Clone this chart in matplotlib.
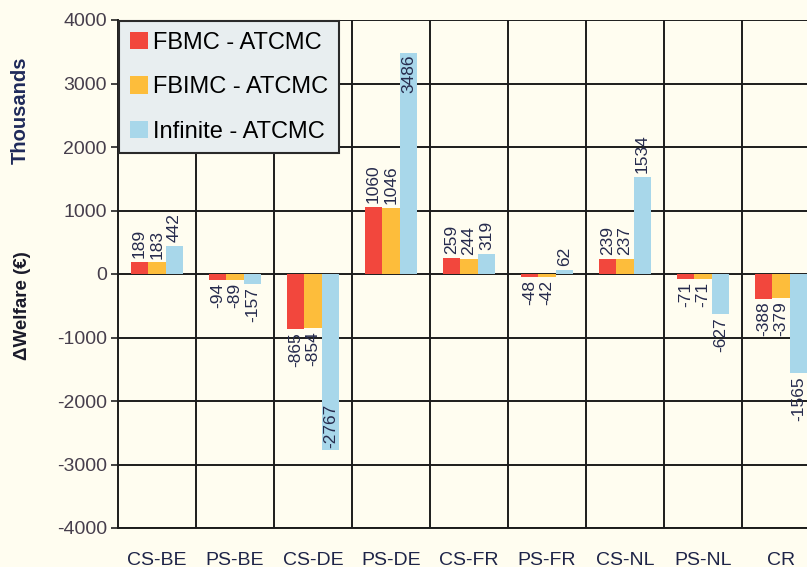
import numpy as np
import matplotlib.pyplot as plt

categories = ["CS-BE", "PS-BE", "CS-DE", "PS-DE", "CS-FR", "PS-FR", "CS-NL", "PS-NL", "CR"]
fbmc = [189, -94, -865, 1060, 259, -48, 239, -71, -388]
fbimc = [183, -89, -854, 1046, 244, -42, 237, -71, -379]
infinite = [442, -157, -2767, 3486, 319, 62, 1534, -627, -1565]
series_names = ["FBMC - ATCMC", "FBIMC - ATCMC", "Infinite - ATCMC"]
y_ticks = [-4000, -3000, -2000, -1000, 0, 1000, 2000, 3000, 4000]

colors = ["#F2473D", "#FDBD3B", "#A8D7EA"]
bg = "#FFFDF0"
ink = "#262B4D"

plt.rcParams['font.family'] = ['Liberation Sans', 'DejaVu Sans']

fig = plt.figure(figsize=(8.07, 5.67), dpi=100, facecolor=bg)
# the CR group runs past the right edge of the figure
ax = fig.add_axes([118 / 807, 39 / 567, 702 / 807, 508 / 567])
ax.set_facecolor(bg)

x = np.arange(len(categories))
w = 0.225
for k, (vals, col, name) in enumerate(zip([fbmc, fbimc, infinite], colors, series_names)):
    xs = x + (k - 1) * w
    ax.bar(xs, vals, width=w, color=col, label=name, zorder=3, linewidth=0)
    for xi, v in zip(xs, vals):
        inside = abs(v) > 2500
        if v >= 0:
            va = 'top' if inside else 'bottom'
            yy = v - 30 if inside else v + 60
        else:
            va = 'bottom' if inside else 'top'
            yy = v + 30 if inside else v - 50
        ax.text(xi, yy, f"{v}", rotation=90, ha='center', va=va,
                fontsize=12.5, color=ink, zorder=4)

ax.set_xlim(-0.5, len(categories) - 0.5)
ax.set_ylim(-4000, 4000)
ax.set_yticks(y_ticks)
ax.set_yticklabels([str(t) for t in y_ticks], fontsize=14, color="#463E4C")
ax.set_xticks(x)
ax.set_xticklabels(categories, fontsize=14, color="#1E2448")
ax.set_xticks(x[:-1] + 0.5, minor=True)
ax.tick_params(axis='x', which='both', length=0, pad=17)
ax.tick_params(axis='y', length=5, width=1.2, color="#222222", pad=3)

ax.grid(axis='y', which='major', color="#1C1C1C", linewidth=1.4, zorder=1)
ax.grid(axis='x', which='minor', color="#1C1C1C", linewidth=1.4, zorder=1)
for side in ['top', 'right']:
    ax.spines[side].set_visible(False)
for side in ['left', 'bottom']:
    ax.spines[side].set_color("#1C1C1C")
    ax.spines[side].set_linewidth(1.4)

leg = ax.legend(loc='upper left', bbox_to_anchor=(0.0, 1.0), fontsize=17,
                frameon=True, fancybox=False, framealpha=1,
                handlelength=0.75, handleheight=0.75, handletextpad=0.25,
                labelspacing=0.95, borderpad=0.45, borderaxespad=0.05)
leg.get_frame().set_facecolor("#E8EEF0")
leg.get_frame().set_edgecolor("#2A2A2A")
leg.get_frame().set_linewidth(1.5)
leg.set_zorder(5)

fig.text(20 / 807, 1 - 110 / 567, "Thousands", rotation=90, ha='center', va='center',
         fontsize=14.5, fontweight='bold', color="#1F2A5A")
fig.text(23 / 807, 1 - 306 / 567, "\u0394Welfare (\u20ac)", rotation=90, ha='center',
         va='center', fontsize=13.5, fontweight='bold', color="#1A1A2A")

fig.savefig("out.png", dpi=100, facecolor=bg)
